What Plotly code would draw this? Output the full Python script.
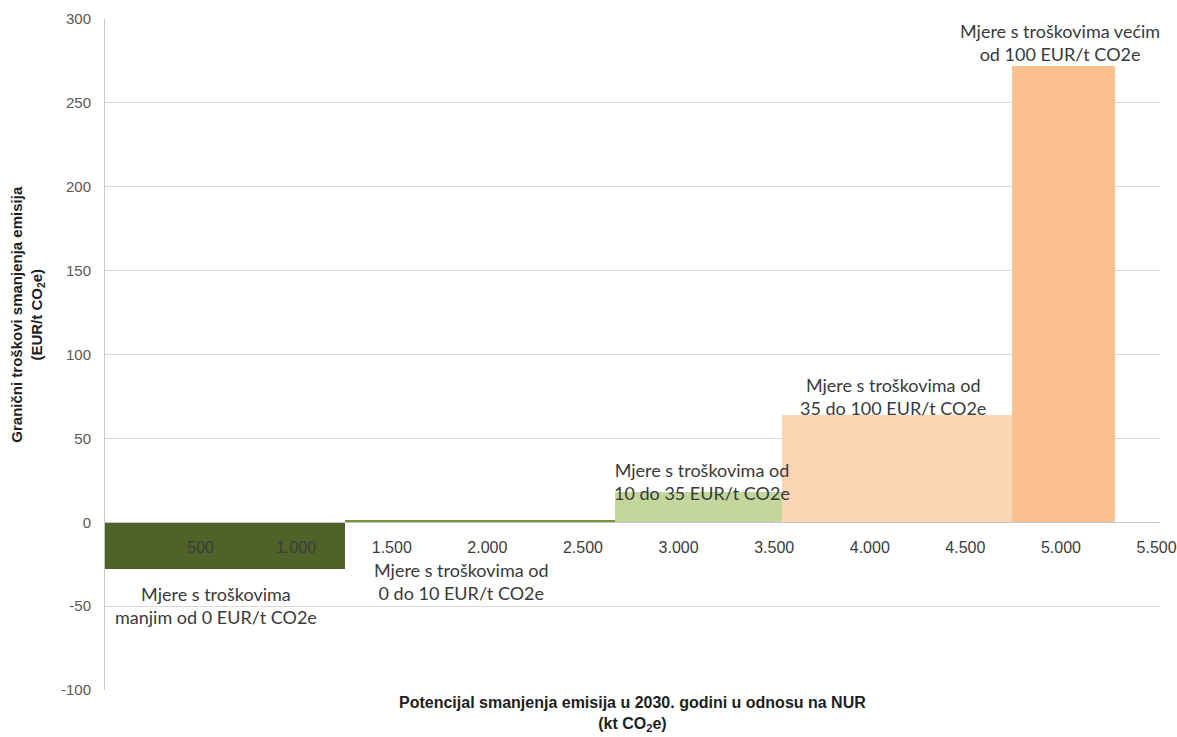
import plotly.graph_objects as go

# Abatement cost classes (marginal abatement cost curve)
categories = [
    "Mjere s troškovima<br>manjim od 0 EUR/t CO2e",
    "Mjere s troškovima od<br>0 do 10 EUR/t CO2e",
    "Mjere s troškovima od<br>10 do 35 EUR/t CO2e",
    "Mjere s troškovima od<br>35 do 100 EUR/t CO2e",
    "Mjere s troškovima većim<br>od 100 EUR/t CO2e",
]
# Reduction potential of each class (kt CO2e) -> bar widths
potentials = [1255, 1412, 874, 1203, 538]
# Marginal abatement cost (EUR/t CO2e) -> bar heights
costs = [-28, 1.5, 18, 64, 272]
colors = ["#4F6228", "#77933C", "#C3D69B", "#FCD5B5", "#FAC090"]

x_ticks = [500, 1000, 1500, 2000, 2500, 3000, 3500, 4000, 4500, 5000, 5500]
x_tick_text = ["500", "1.000", "1.500", "2.000", "2.500", "3.000",
               "3.500", "4.000", "4.500", "5.000", "5.500"]
y_ticks = [-100, -50, 0, 50, 100, 150, 200, 250, 300]
y_tick_text = ["-100", "-50", "0", "50", "100", "150", "200", "250", "300"]

# label anchor points (x in kt, y in EUR/t)
label_x = [581, 1862, 3122, 4121, 4995]
label_y = [-49.5, -35.5, 24, 75, 286]

# bar geometry from cumulative potentials
edges = [0]
for p in potentials:
    edges.append(edges[-1] + p)
centers = [(edges[i] + edges[i + 1]) / 2 for i in range(len(potentials))]

fig = go.Figure()
fig.add_trace(go.Bar(
    x=centers, y=costs, width=potentials,
    marker=dict(color=colors, line=dict(width=0)),
    hoverinfo="skip", showlegend=False,
))

x_tick_font = dict(family="Liberation Sans, Arial, sans-serif", size=16, color="#3C3C3C")
y_tick_font = dict(family="Liberation Sans, Arial, sans-serif", size=15, color="#595959")
label_font = dict(family="Lato, Calibri, sans-serif", size=18, color="#3A3A3A")

for txt, lx, ly in zip(categories, label_x, label_y):
    fig.add_annotation(x=lx, y=ly, xref="x", yref="y", text=txt,
                       showarrow=False, font=label_font, align="center",
                       xanchor="center", yanchor="middle")

fig.add_annotation(
    text="<b>Granični troškovi smanjenja emisija<br>(EUR/t CO<sub>2</sub>e)</b>",
    xref="paper", yref="paper", x=-0.0735, y=0.56, textangle=-90,
    showarrow=False,
    font=dict(family="Liberation Sans, Arial, sans-serif", size=15, color="#1E1E1E"),
    xanchor="center", yanchor="middle", align="center",
)
fig.add_annotation(
    text="<b>Potencijal smanjenja emisija u 2030. godini u odnosu na NUR<br>(kt CO<sub>2</sub>e)</b>",
    xref="paper", yref="paper", x=0.5, y=-0.036,
    showarrow=False,
    font=dict(family="Liberation Sans, Arial, sans-serif", size=16, color="#1E1E1E"),
    xanchor="center", yanchor="middle", align="center",
)

fig.update_layout(
    width=1177, height=737,
    margin=dict(l=105, r=17, t=19, b=47),
    paper_bgcolor="white", plot_bgcolor="white",
    bargap=0,
    xaxis=dict(
        range=[0, 5518], anchor="free", position=0.25, automargin=False,
        tickvals=x_ticks, ticktext=x_tick_text, tickfont=x_tick_font,
        showgrid=False, zeroline=False, showline=True, layer="above traces",
        linecolor="#C8C8C8", linewidth=1, ticks="", ticklabelstandoff=11,
    ),
    yaxis=dict(
        range=[-100, 300], tickvals=y_ticks, ticktext=y_tick_text,
        tickfont=y_tick_font, automargin=False,
        showgrid=True, gridcolor="#D9D9D9", gridwidth=1,
        zeroline=False, showline=True, linecolor="#C8C8C8", linewidth=1,
        ticks="", ticklabelstandoff=10,
    ),
)

fig.write_html("out.html")
